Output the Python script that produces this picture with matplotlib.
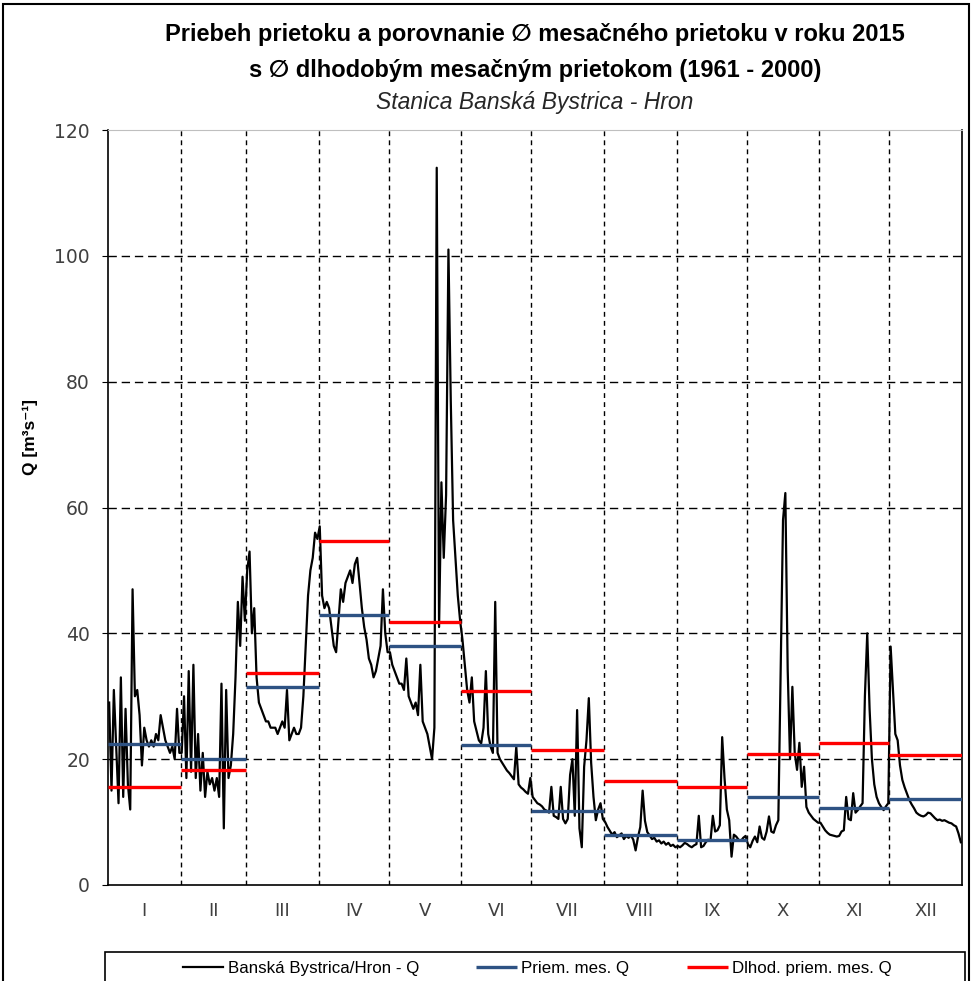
import numpy as np
import matplotlib.pyplot as plt
from matplotlib.patches import Rectangle

# denné prietoky 2015 (odčítané z grafu), m3/s
q_jan = [29, 15, 31, 22, 13, 33, 14, 28, 16, 12, 47, 30, 31, 27, 19, 25, 23, 22, 23, 22,
         24, 23, 27, 25, 23, 22, 21, 22, 20, 28, 21]
q_feb = [21, 30, 17, 34, 18, 35, 17, 24, 15, 21, 14, 18, 16, 17, 15, 17, 14, 32, 9, 31,
         17, 19, 24, 33, 45, 38, 49, 42]
q_mar = [50, 53, 40, 44, 33, 29, 28, 27, 26, 26, 25, 25, 25, 24, 25, 26, 25, 31, 23, 24,
         25, 24, 24, 25, 30, 38, 46, 50, 52, 56, 55]
q_apr = [57, 46, 44, 45, 44, 41, 38, 37, 42, 47, 45, 48, 49, 50, 48, 51, 52, 48, 44, 41,
         39, 36, 35, 33, 34, 36, 38, 47, 40, 37]
q_may = [37, 35, 34, 33, 32, 32, 31, 36, 30, 29, 28, 29, 27, 35, 26, 25, 24, 22, 20, 25,
         114, 41, 64, 52, 62, 101, 77, 58, 52, 46, 42]
q_jun = [39, 35, 31, 29, 33, 26, 24.5, 23, 22.5, 25, 34, 24, 22, 21, 45, 21, 20, 19.4, 18.8, 18.2,
         17.8, 17.3, 16.8, 22, 16, 15.5, 15.2, 14.8, 14.5, 17]
q_jul = [14, 13.5, 13, 12.8, 12.5, 12, 11.8, 11.5, 15.6, 11, 10.8, 10.5, 15.6, 10.5, 9.8, 10.5,
         17.5, 20, 11, 27.8, 9, 6, 18.8, 23, 29.7, 19.4, 14, 10.3, 12, 13, 10.5]
q_aug = [10, 9.2, 8.6, 8.0, 8.4, 7.6, 7.9, 8.2, 7.3, 7.8, 7.5, 7.9, 7.2, 5.5, 7.6, 9.2,
         15.0, 10.2, 8.4, 7.9, 7.3, 7.5, 6.9, 7.1, 6.6, 6.9, 6.4, 6.7, 6.2, 6.4, 6.0]
q_sep = [6.2, 6.0, 6.3, 6.7, 6.5, 6.2, 6.0, 6.3, 6.5, 11, 6.0, 6.2, 6.8, 7.2, 7.0, 11,
         8.5, 8.7, 9.5, 23.5, 17, 12, 10.3, 4.5, 8, 7.7, 7.2, 7.0, 7.5, 7.8]
q_oct = [6.5, 6.0, 7.0, 7.7, 6.8, 9.3, 7.5, 7.2, 8.5, 10.9, 8.5, 8.3, 9.5, 10.3, 34.7, 58,
         62.3, 34.2, 20, 31.5, 21, 18.3, 22.6, 15.6, 18.8, 12.4, 11.5, 11, 10.5, 10.2, 9.9]
q_nov = [9.9, 9.3, 8.7, 8.3, 8.0, 7.9, 7.8, 7.7, 7.8, 8.5, 8.7, 14, 10.5, 10.3, 14.6,
         11.5, 11.9, 12.5, 13, 30, 40, 28, 20, 16, 14, 13, 12.4, 11.9, 12.5, 13]
q_dec = [37.9, 31, 24, 23, 19, 16.7, 15.5, 14.5, 13.5, 12.8, 12.2, 11.5, 11.2, 11, 10.9,
         11.1, 11.5, 11.4, 11, 10.6, 10.3, 10.4, 10.2, 10.3, 10.1, 9.9, 9.8, 9.5, 9.3, 8.2, 6.8]

months = ['I', 'II', 'III', 'IV', 'V', 'VI', 'VII', 'VIII', 'IX', 'X', 'XI', 'XII']
days_in_month = [31, 28, 31, 30, 31, 30, 31, 31, 30, 31, 30, 31]
priem_q = [22.4, 20.0, 31.4, 42.9, 38.0, 22.3, 11.8, 7.9, 7.1, 14.0, 12.2, 13.6]
dlhod_q = [15.5, 18.2, 33.7, 54.7, 41.8, 30.8, 21.4, 16.6, 15.6, 20.9, 22.5, 20.7]

q = np.concatenate([q_jan, q_feb, q_mar, q_apr, q_may, q_jun,
                    q_jul, q_aug, q_sep, q_oct, q_nov, q_dec])
x = np.arange(len(q)) + 0.5
edges = np.concatenate([[0], np.cumsum(days_in_month)])
mids = (edges[:-1] + edges[1:]) / 2

calibri = ['Liberation Sans', 'DejaVu Sans']

fig = plt.figure(figsize=(9.72, 9.81), dpi=100)
ax = fig.add_axes([108 / 972, 1 - 885 / 981, 854 / 972, 755 / 981])

# mriežka
for yv in [20, 40, 60, 80, 100]:
    ax.axhline(yv, color='black', lw=1.0, ls=(0, (6, 3.5)), zorder=1)
for e in edges[1:-1]:
    ax.axvline(e, color='black', lw=1.0, ls=(0, (3.5, 3)), zorder=1)

ax.plot(x, q, color='black', lw=1.6, zorder=3, label='Banská Bystrica/Hron - Q')
for i in range(12):
    ax.hlines(priem_q[i], edges[i], edges[i + 1], color='#2E5283', lw=2.4, zorder=4,
              label='Priem. mes. Q' if i == 0 else None)
for i in range(12):
    ax.hlines(dlhod_q[i], edges[i], edges[i + 1], color='#FF0000', lw=2.4, zorder=5,
              label='Dlhod. priem. mes. Q' if i == 0 else None)

ax.set_xlim(0, 365)
ax.set_ylim(0, 120)
ax.set_yticks(range(0, 121, 20))
ax.set_xticks(mids)
ax.set_xticklabels(months)
ax.tick_params(axis='x', length=0, pad=12, labelsize=13, colors='#404040')
ax.tick_params(axis='y', length=4.5, direction='out', pad=8.5, labelsize=13.5, colors='#404040')
ax.tick_params(axis='y', color='black')
ax.spines['top'].set_color('#BFBFBF')
for s in ['left', 'bottom', 'right']:
    ax.spines[s].set_color('black')
    ax.spines[s].set_linewidth(1.2)

fig.text(30 / 972, 1 - 437 / 981, 'Q [m³s⁻¹]', rotation=90, ha='center', va='center',
         fontsize=12.5, fontweight='bold', family=calibri)

fig.text(535 / 972, 1 - 35 / 981,
         'Priebeh prietoku a porovnanie ∅ mesačného prietoku v roku 2015',
         ha='center', va='center', fontsize=17, fontweight='bold', family=calibri)
fig.text(535 / 972, 1 - 70 / 981, 's ∅ dlhodobým mesačným prietokom (1961 - 2000)',
         ha='center', va='center', fontsize=17, fontweight='bold', family=calibri)
fig.text(535 / 972, 1 - 102 / 981, 'Stanica Banská Bystrica - Hron',
         ha='center', va='center', fontsize=16.5, style='italic', family=calibri,
         color='#262626')

# rámik grafu a legendy
fig.patches.append(Rectangle((3 / 972, -0.02), 966 / 972, 1.016, transform=fig.transFigure,
                             fill=False, edgecolor='black', lw=1.5))
fig.patches.append(Rectangle((105 / 972, -0.02), 860 / 972, 0.02 + 29 / 981,
                             transform=fig.transFigure, fill=False, edgecolor='black', lw=1.2))

handles, labels = ax.get_legend_handles_labels()
fig.legend(handles, labels, loc='center', bbox_to_anchor=(537 / 972, 1 - 968 / 981),
           ncol=3, frameon=False, handlelength=2.4, columnspacing=3.4, handletextpad=0.25,
           prop={'family': calibri, 'size': 12.2})

fig.savefig('out.png', dpi=100)
